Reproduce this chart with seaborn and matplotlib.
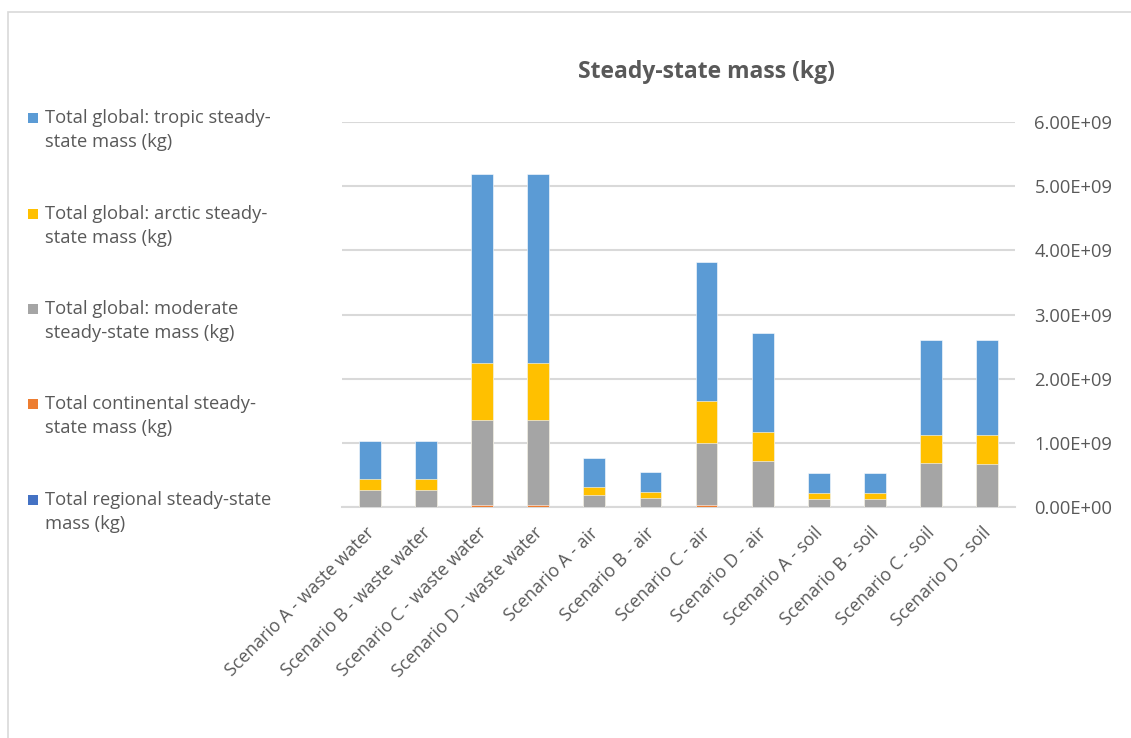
import matplotlib
matplotlib.use("Agg")
import matplotlib.pyplot as plt
from matplotlib.patches import Rectangle
from matplotlib.transforms import ScaledTranslation
import numpy as np
import pandas as pd
import seaborn as sns

# Emission scenarios and compartment masses (kg)
scenarios = [
    "Scenario A - waste water", "Scenario B - waste water",
    "Scenario C - waste water", "Scenario D - waste water",
    "Scenario A - air", "Scenario B - air", "Scenario C - air", "Scenario D - air",
    "Scenario A - soil", "Scenario B - soil", "Scenario C - soil", "Scenario D - soil",
]
regional = [1e6, 1e6, 2e6, 2e6, 1e6, 1e6, 2e6, 1e6, 1e6, 1e6, 1e6, 1e6]
continental = [4e6, 4e6, 2.5e7, 2.5e7, 3e6, 2e6, 2.2e7, 5e6, 2e6, 2e6, 4e6, 4e6]
moderate = [0.260e9, 0.260e9, 1.335e9, 1.335e9, 0.185e9, 0.142e9, 0.978e9, 0.705e9,
            0.122e9, 0.122e9, 0.686e9, 0.671e9]
arctic = [0.171e9, 0.171e9, 0.880e9, 0.880e9, 0.122e9, 0.090e9, 0.657e9, 0.465e9,
          0.095e9, 0.095e9, 0.427e9, 0.442e9]
tropic = [0.598e9, 0.598e9, 2.950e9, 2.950e9, 0.450e9, 0.305e9, 2.153e9, 1.530e9,
          0.305e9, 0.305e9, 1.483e9, 1.483e9]

series_names = [
    "Total regional steady-state\nmass (kg)",
    "Total continental steady-\nstate mass (kg)",
    "Total global: moderate\nsteady-state mass (kg)",
    "Total global: arctic steady-\nstate mass (kg)",
    "Total global: tropic steady-\nstate mass (kg)",
]
series_colors = ["#4472C4", "#ED7D31", "#A5A5A5", "#FFC000", "#5B9BD5"]

df = pd.DataFrame({
    "scenario": scenarios,
    "regional": regional,
    "continental": continental,
    "moderate": moderate,
    "arctic": arctic,
    "tropic": tropic,
})
stack_cols = ["regional", "continental", "moderate", "arctic", "tropic"]
cum = df[stack_cols].cumsum(axis=1)

sns.set_style("white")
plt.rcParams["font.family"] = ["Open Sans", "DejaVu Sans"]
text_color = "#595959"

W, H = 1131, 738
fig = plt.figure(figsize=(W / 100, H / 100), dpi=100)
ax = fig.add_axes([342 / W, 1 - 507 / H, (1015 - 342) / W, (507 - 122) / H])

# Stacked bars: draw cumulative totals from the top segment down
for col, color in zip(reversed(stack_cols), reversed(series_colors)):
    sns.barplot(x=df["scenario"], y=cum[col], color=color, width=0.39,
                saturation=1, ax=ax, edgecolor="white", linewidth=0.4, zorder=3)

ax.set_ylim(0, 6e9)
ax.set_yticks(np.arange(0, 6.01e9, 1e9))
ax.yaxis.tick_right()
ax.yaxis.set_major_formatter(plt.FuncFormatter(lambda v, p: f"{v:.2E}"))
ax.grid(axis="y", color="#d9d9d9", linewidth=1.5, zorder=0)
ax.set_axisbelow(True)
for s in ["left", "right", "top"]:
    ax.spines[s].set_visible(False)
ax.spines["bottom"].set_color("#d9d9d9")
ax.spines["bottom"].set_linewidth(1.5)
ax.tick_params(axis="y", length=0, labelsize=13.2, labelcolor=text_color, pad=14)
ax.tick_params(axis="x", length=0, labelsize=12.8, labelcolor=text_color, pad=12)
ax.set_xlabel("")
ax.set_ylabel("")
shift = ScaledTranslation(-5 / 100, 0, fig.dpi_scale_trans)
for lab in ax.get_xticklabels():
    lab.set_rotation(45)
    lab.set_ha("right")
    lab.set_va("top")
    lab.set_rotation_mode("anchor")
    lab.set_transform(lab.get_transform() + shift)

fig.text(706 / W, 1 - 78 / H, "Steady-state mass (kg)", fontsize=16.5,
         fontweight="bold", color=text_color, ha="center", va="baseline")

# Legend on the left: swatch beside the first line of each entry
legend_y = [118, 214, 309, 404, 500]
for y, name, color in zip(legend_y, reversed(series_names), reversed(series_colors)):
    fig.patches.append(Rectangle((28 / W, 1 - (y + 5) / H), 10 / W, 10 / H,
                                 transform=fig.transFigure, facecolor=color,
                                 edgecolor="none"))
    fig.text(45 / W, 1 - (y - 9) / H, name, fontsize=13.2, color=text_color,
             va="top", ha="left", linespacing=1.42)

# Chart area border
fig.patches.append(Rectangle((8 / W, -0.05), 1.2, 1 - 12 / H + 0.05,
                             transform=fig.transFigure, fill=False,
                             edgecolor="#d9d9d9", linewidth=1.2))

fig.savefig("out.png", dpi=100)
